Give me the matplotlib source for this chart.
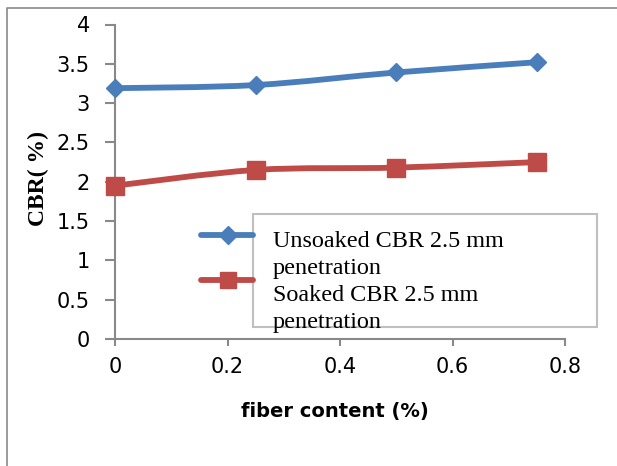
import numpy as np
import matplotlib.pyplot as plt
from matplotlib.path import Path
from matplotlib.patches import PathPatch, Rectangle
from matplotlib.lines import Line2D

# data
fiber = [0, 0.25, 0.5, 0.75]
unsoaked = [3.19, 3.23, 3.39, 3.52]
soaked = [1.95, 2.15, 2.18, 2.25]
labels = ['Unsoaked CBR 2.5 mm\npenetration', 'Soaked CBR 2.5 mm\npenetration']
colors = ['#4A7EBB', '#BE4B48']
markers = ['D', 's']

W, H = 617, 466


# Excel-style smoothed line (cardinal spline as bezier segments)
def smooth_path(xs, ys, t=1/6):
    pts = np.column_stack([xs, ys]).astype(float)
    n = len(pts)
    verts = [pts[0]]
    codes = [Path.MOVETO]
    for i in range(n - 1):
        p0 = pts[i - 1] if i > 0 else pts[i]
        p1 = pts[i]
        p2 = pts[i + 1]
        p3 = pts[i + 2] if i + 2 < n else pts[i + 1]
        c1 = p1 + (p2 - p0) * t
        c2 = p2 - (p3 - p1) * t
        verts += [c1, c2, p2]
        codes += [Path.CURVE4] * 3
    return Path(verts, codes)


fig = plt.figure(figsize=(W / 100, H / 100), dpi=100)
ax = fig.add_axes([115 / W, 1 - 339 / H, 450 / W, 314.5 / H])

series = [unsoaked, soaked]
for ys, c, m, ms in zip(series, colors, markers, [9.5, 13]):
    ax.add_patch(PathPatch(smooth_path(fiber, ys), fill=False, edgecolor=c,
                           lw=4.2, capstyle='round', zorder=2))
    ax.plot(fiber, ys, ls='none', marker=m, ms=ms, color=c, zorder=3, clip_on=False)

ax.set_xlim(0, 0.8)
ax.set_ylim(0, 4)
ax.set_xticks(np.arange(0, 0.81, 0.2))
ax.set_yticks(np.arange(0, 4.01, 0.5))
ax.set_xticklabels(['0', '0.2', '0.4', '0.6', '0.8'])
ax.set_yticklabels(['0', '0.5', '1', '1.5', '2', '2.5', '3', '3.5', '4'])
for s in ['top', 'right']:
    ax.spines[s].set_visible(False)
for s in ['left', 'bottom']:
    ax.spines[s].set_color('#898989')
    ax.spines[s].set_linewidth(1.5)
ax.tick_params(axis='both', direction='out', width=1.5, color='#898989', labelsize=15)
ax.tick_params(axis='x', length=5, pad=8)
ax.tick_params(axis='y', length=7, pad=11)
for lbl in ax.get_xticklabels() + ax.get_yticklabels():
    lbl.set_fontfamily('DejaVu Sans')

ax.set_xlabel('fiber content (%)', fontsize=14, fontweight='bold', family='DejaVu Sans')
ax.xaxis.set_label_coords((334.5 - 115) / 450, (339 - 412) / 314.5)
ax.xaxis.label.set_va('center')
ax.set_ylabel('CBR( %)', fontsize=17, fontweight='bold', family='Liberation Serif')
ax.yaxis.set_label_coords((38 - 115) / 450, (339 - 178) / 314.5)
ax.yaxis.label.set_va('center')

# legend drawn Excel-like: handles sit left of the box
fig.add_artist(Rectangle((253 / W, 1 - 327 / H), 344 / W, 113 / H, transform=fig.transFigure,
                         facecolor='white', edgecolor='#BFBFBF', lw=1.5, zorder=4))
for y, c, m, ms in zip([235, 280], colors, markers, [9, 12]):
    fig.add_artist(Line2D([201 / W, 253 / W], [1 - y / H] * 2, transform=fig.transFigure,
                          color=c, lw=4.2, solid_capstyle='round', zorder=5))
    fig.add_artist(Line2D([228 / W], [1 - y / H], transform=fig.transFigure, ls='none',
                          marker=m, ms=ms, color=c, zorder=5))
baseline = 247
for lab in labels:
    for line in lab.split('\n'):
        fig.text(273 / W, 1 - baseline / H, line, fontsize=17.4, family='Liberation Serif',
                 va='baseline', ha='left', zorder=6)
        baseline += 27

# outer chart border
fig.add_artist(Line2D([7 / W, 7 / W, 1], [0, 1 - 8 / H, 1 - 8 / H],
                      transform=fig.transFigure, color='#898989', lw=1.2))

fig.savefig('out.png', dpi=100)
